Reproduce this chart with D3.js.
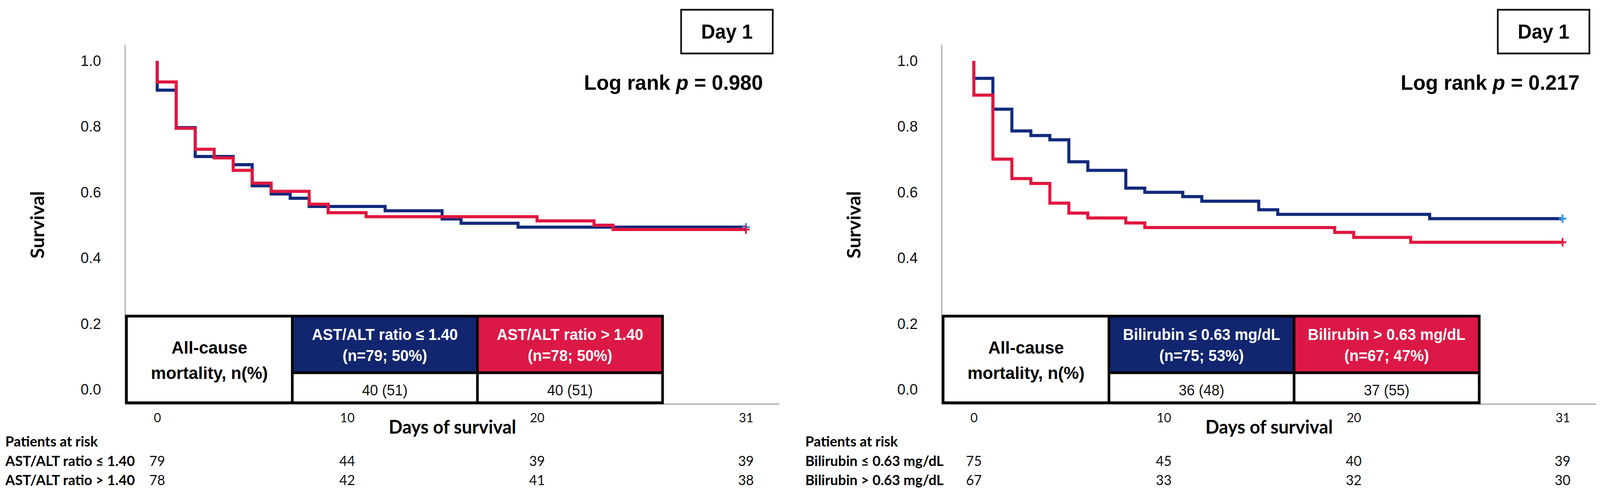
<!doctype html>
<html lang="en">
<head>
<meta charset="utf-8">
<style>
  html, body { margin: 0; padding: 0; background: #fff; overflow: hidden; }
  svg { display: block; }
  .arial { font-family: "Liberation Sans", Arial, sans-serif; }
  .calibri { font-family: Lato, "Open Sans", sans-serif; }
</style>
</head>
<body>
<script src="https://d3js.org/d3.v7.min.js"></script>
<script>

// ---- data ----
var tickDays = [0, 10, 20, 31];
var yTicks = [0, 0.2, 0.4, 0.6, 0.8, 1.0];

// left panel: AST/ALT ratio
var astLowTimes = [0, 1, 2, 4, 5, 6, 7, 8, 12, 15, 16, 19];
var astLowSurv  = [0.911, 0.797, 0.709, 0.684, 0.620, 0.595, 0.582, 0.557, 0.544, 0.519, 0.506, 0.494];
var astHighTimes = [0, 1, 2, 3, 4, 5, 6, 8, 9, 11, 20, 23, 24];
var astHighSurv  = [0.936, 0.795, 0.731, 0.705, 0.667, 0.628, 0.603, 0.564, 0.538, 0.526, 0.513, 0.500, 0.487];
var astGroups = ["AST/ALT ratio ≤ 1.40", "AST/ALT ratio > 1.40"];
var astCounts = ["(n=79; 50%)", "(n=78; 50%)"];
var astMortality = ["40 (51)", "40 (51)"];
var astRiskLow = [79, 44, 39, 39];
var astRiskHigh = [78, 42, 41, 38];
var astP = "0.980";

// right panel: bilirubin
var biliLowTimes = [0, 1, 2, 3, 4, 5, 6, 8, 9, 11, 12, 15, 16, 24];
var biliLowSurv  = [0.947, 0.853, 0.787, 0.773, 0.760, 0.693, 0.667, 0.613, 0.600, 0.587, 0.573, 0.547, 0.533, 0.520];
var biliHighTimes = [0, 1, 2, 3, 4, 5, 6, 8, 9, 19, 20, 23];
var biliHighSurv  = [0.896, 0.701, 0.642, 0.627, 0.567, 0.537, 0.522, 0.507, 0.493, 0.478, 0.463, 0.448];
var biliGroups = ["Bilirubin ≤ 0.63 mg/dL", "Bilirubin > 0.63 mg/dL"];
var biliCounts = ["(n=75; 53%)", "(n=67; 47%)"];
var biliMortality = ["36 (48)", "37 (55)"];
var biliRiskLow = [75, 45, 40, 39];
var biliRiskHigh = [67, 33, 32, 30];
var biliP = "0.217";

var endDay = 31;

// ---- colours ----
var lineBlue = "#102a7c", lineRed = "#e0173f";
var cellBlue = "#12256f", cellRed = "#dc1846";
var censorBlue = "#2c9cf0";

// fixed drawing size, scaled to whatever the window is
var svg = d3.select("body").append("svg")
	.attr("viewBox", "0 0 4226 1276")
	.attr("preserveAspectRatio", "none")
	.style("width", "100vw").style("height", "100vh")
	.style("background", "#fff");

function panel(ax, riskX, groups, counts, mortality, riskLow, riskHigh, pval, series) {

	var g = svg.append("g").attr("transform", "translate(" + ax + ",0)");

	var x = d3.scaleLinear().domain([-1.7, 32.75]).range([0, 1728]);
	var y = d3.scaleLinear().domain([-0.044, 1.05]).range([1035, 114]);

	// axes
	var ya = g.append("g").attr("class", "arial")
		.call(d3.axisLeft(y).tickValues(yTicks).tickSize(0).tickPadding(63).tickFormat(d3.format(".1f")));
	ya.select(".domain").attr("stroke", "#9a9a9a").attr("stroke-width", 2.5);
	ya.selectAll("text").style("font-size", "39px").attr("fill", "#111");

	var xa = g.append("g").attr("class", "calibri").attr("transform", "translate(0," + y.range()[0] + ")")
		.call(d3.axisBottom(x).tickValues(tickDays).tickSize(0).tickPadding(24).tickFormat(d3.format("d")));
	xa.select(".domain").attr("stroke", "#9a9a9a").attr("stroke-width", 2.5);
	xa.selectAll("text").style("font-size", "33px").attr("fill", "#111");

	// curves
	var line = d3.line().x(function(d){ return x(d[0]) }).y(function(d){ return y(d[1]) }).curve(d3.curveStepAfter);

	series.forEach(function(s){
		var pts = [[0, 1]];
		s.times.forEach(function(t, i){ pts.push([t, s.surv[i]]) });
		pts.push([endDay, s.surv[s.surv.length - 1]]);
		g.append("path").datum(pts).attr("d", line).attr("fill", "none")
			.attr("stroke", s.color).attr("stroke-width", 8);
		var last = pts[pts.length - 1];
		var cx = x(last[0]), cy = y(last[1]);
		g.append("path").attr("d", "M" + (cx - 10) + "," + cy + "H" + (cx + 10) + "M" + cx + "," + (cy - 11) + "V" + (cy + 11))
			.attr("stroke", s.censor).attr("stroke-width", 4.5).attr("fill", "none");
	});

	// survival label
	g.append("text").attr("class", "calibri").attr("transform", "translate(-233,576) rotate(-90)")
		.attr("text-anchor", "middle").attr("dominant-baseline", "central")
		.style("font-size", "49px").style("font-weight", "bold").text("Survival");

	g.append("text").attr("class", "calibri").attr("x", 865).attr("y", 1111).attr("text-anchor", "middle")
		.style("font-size", "48px").style("font-weight", "bold").text("Days of survival");

	// day box and log rank
	g.append("rect").attr("x", 1469).attr("y", 25).attr("width", 242).attr("height", 112)
		.attr("fill", "#fff").attr("stroke", "#111").attr("stroke-width", 4.5);
	g.append("text").attr("class", "arial").attr("x", 1590).attr("y", 99).attr("text-anchor", "middle")
		.style("font-size", "51px").style("font-weight", "bold").text("Day 1");

	var lr = g.append("text").attr("class", "arial").attr("x", 1685).attr("y", 230).attr("text-anchor", "end")
		.style("font-size", "54px").style("font-weight", "bold");
	lr.append("tspan").text("Log rank ");
	lr.append("tspan").style("font-style", "italic").text("p");
	lr.append("tspan").text(" = " + pval);

	// mortality table
	var cx0 = 4, cx1 = 442, cx2 = 931, cx3 = 1420;
	var ty0 = 810, ty1 = 955, ty2 = 1032;
	var t = g.append("g").attr("class", "arial");
	t.append("rect").attr("x", cx0).attr("y", ty0).attr("width", cx1 - cx0).attr("height", ty2 - ty0).attr("fill", "#fff");
	[[cx1, cx2, cellBlue], [cx2, cx3, cellRed]].forEach(function(c, i){
		t.append("rect").attr("x", c[0]).attr("y", ty0).attr("width", c[1] - c[0]).attr("height", ty1 - ty0).attr("fill", c[2]);
		t.append("rect").attr("x", c[0]).attr("y", ty1).attr("width", c[1] - c[0]).attr("height", ty2 - ty1).attr("fill", "#fff");
		var mid = (c[0] + c[1]) / 2;
		t.append("text").attr("x", mid).attr("y", 871).attr("text-anchor", "middle").attr("fill", "#fff")
			.style("font-size", "40px").style("font-weight", "bold").text(groups[i]);
		t.append("text").attr("x", mid).attr("y", 925).attr("text-anchor", "middle").attr("fill", "#fff")
			.style("font-size", "40px").style("font-weight", "bold").text(counts[i]);
		t.append("text").attr("x", mid).attr("y", 1013).attr("text-anchor", "middle").attr("fill", "#111")
			.style("font-size", "38px").text(mortality[i]);
	});
	t.append("text").attr("x", (cx0 + cx1) / 2).attr("y", 906).attr("text-anchor", "middle")
		.style("font-size", "45px").style("font-weight", "bold").text("All-cause");
	t.append("text").attr("x", (cx0 + cx1) / 2).attr("y", 971).attr("text-anchor", "middle")
		.style("font-size", "45px").style("font-weight", "bold").text("mortality, n(%)");
	t.append("path")
		.attr("d", "M" + cx1 + "," + ty0 + "V" + ty2 + "M" + cx2 + "," + ty0 + "V" + ty2 + "M" + cx1 + "," + ty1 + "H" + cx3)
		.attr("stroke", "#000").attr("stroke-width", 7).attr("fill", "none");
	t.append("rect").attr("x", cx0).attr("y", ty0).attr("width", cx3 - cx0).attr("height", ty2 - ty0)
		.attr("fill", "none").attr("stroke", "#000").attr("stroke-width", 7);

	// patients at risk
	var r = svg.append("g").attr("class", "calibri");
	r.append("text").attr("x", riskX).attr("y", 1144).style("font-size", "37px").style("font-weight", "bold").text("Patients at risk");
	[[groups[0], riskLow, 1194], [groups[1], riskHigh, 1243]].forEach(function(row){
		r.append("text").attr("x", riskX).attr("y", row[2]).style("font-size", "37px").style("font-weight", "bold").text(row[0]);
		r.selectAll(null).data(row[1]).enter().append("text")
			.attr("x", function(d, i){ return ax + x(tickDays[i]) }).attr("y", row[2])
			.attr("text-anchor", "middle").style("font-size", "36px").attr("fill", "#111")
			.text(function(d){ return d });
	});
}

panel(330, 14, astGroups, astCounts, astMortality, astRiskLow, astRiskHigh, astP, [
	{times: astLowTimes, surv: astLowSurv, color: lineBlue, censor: censorBlue},
	{times: astHighTimes, surv: astHighSurv, color: lineRed, censor: lineRed}
]);

panel(2487, 2127, biliGroups, biliCounts, biliMortality, biliRiskLow, biliRiskHigh, biliP, [
	{times: biliLowTimes, surv: biliLowSurv, color: lineBlue, censor: censorBlue},
	{times: biliHighTimes, surv: biliHighSurv, color: lineRed, censor: lineRed}
]);

</script>
</body>
</html>
